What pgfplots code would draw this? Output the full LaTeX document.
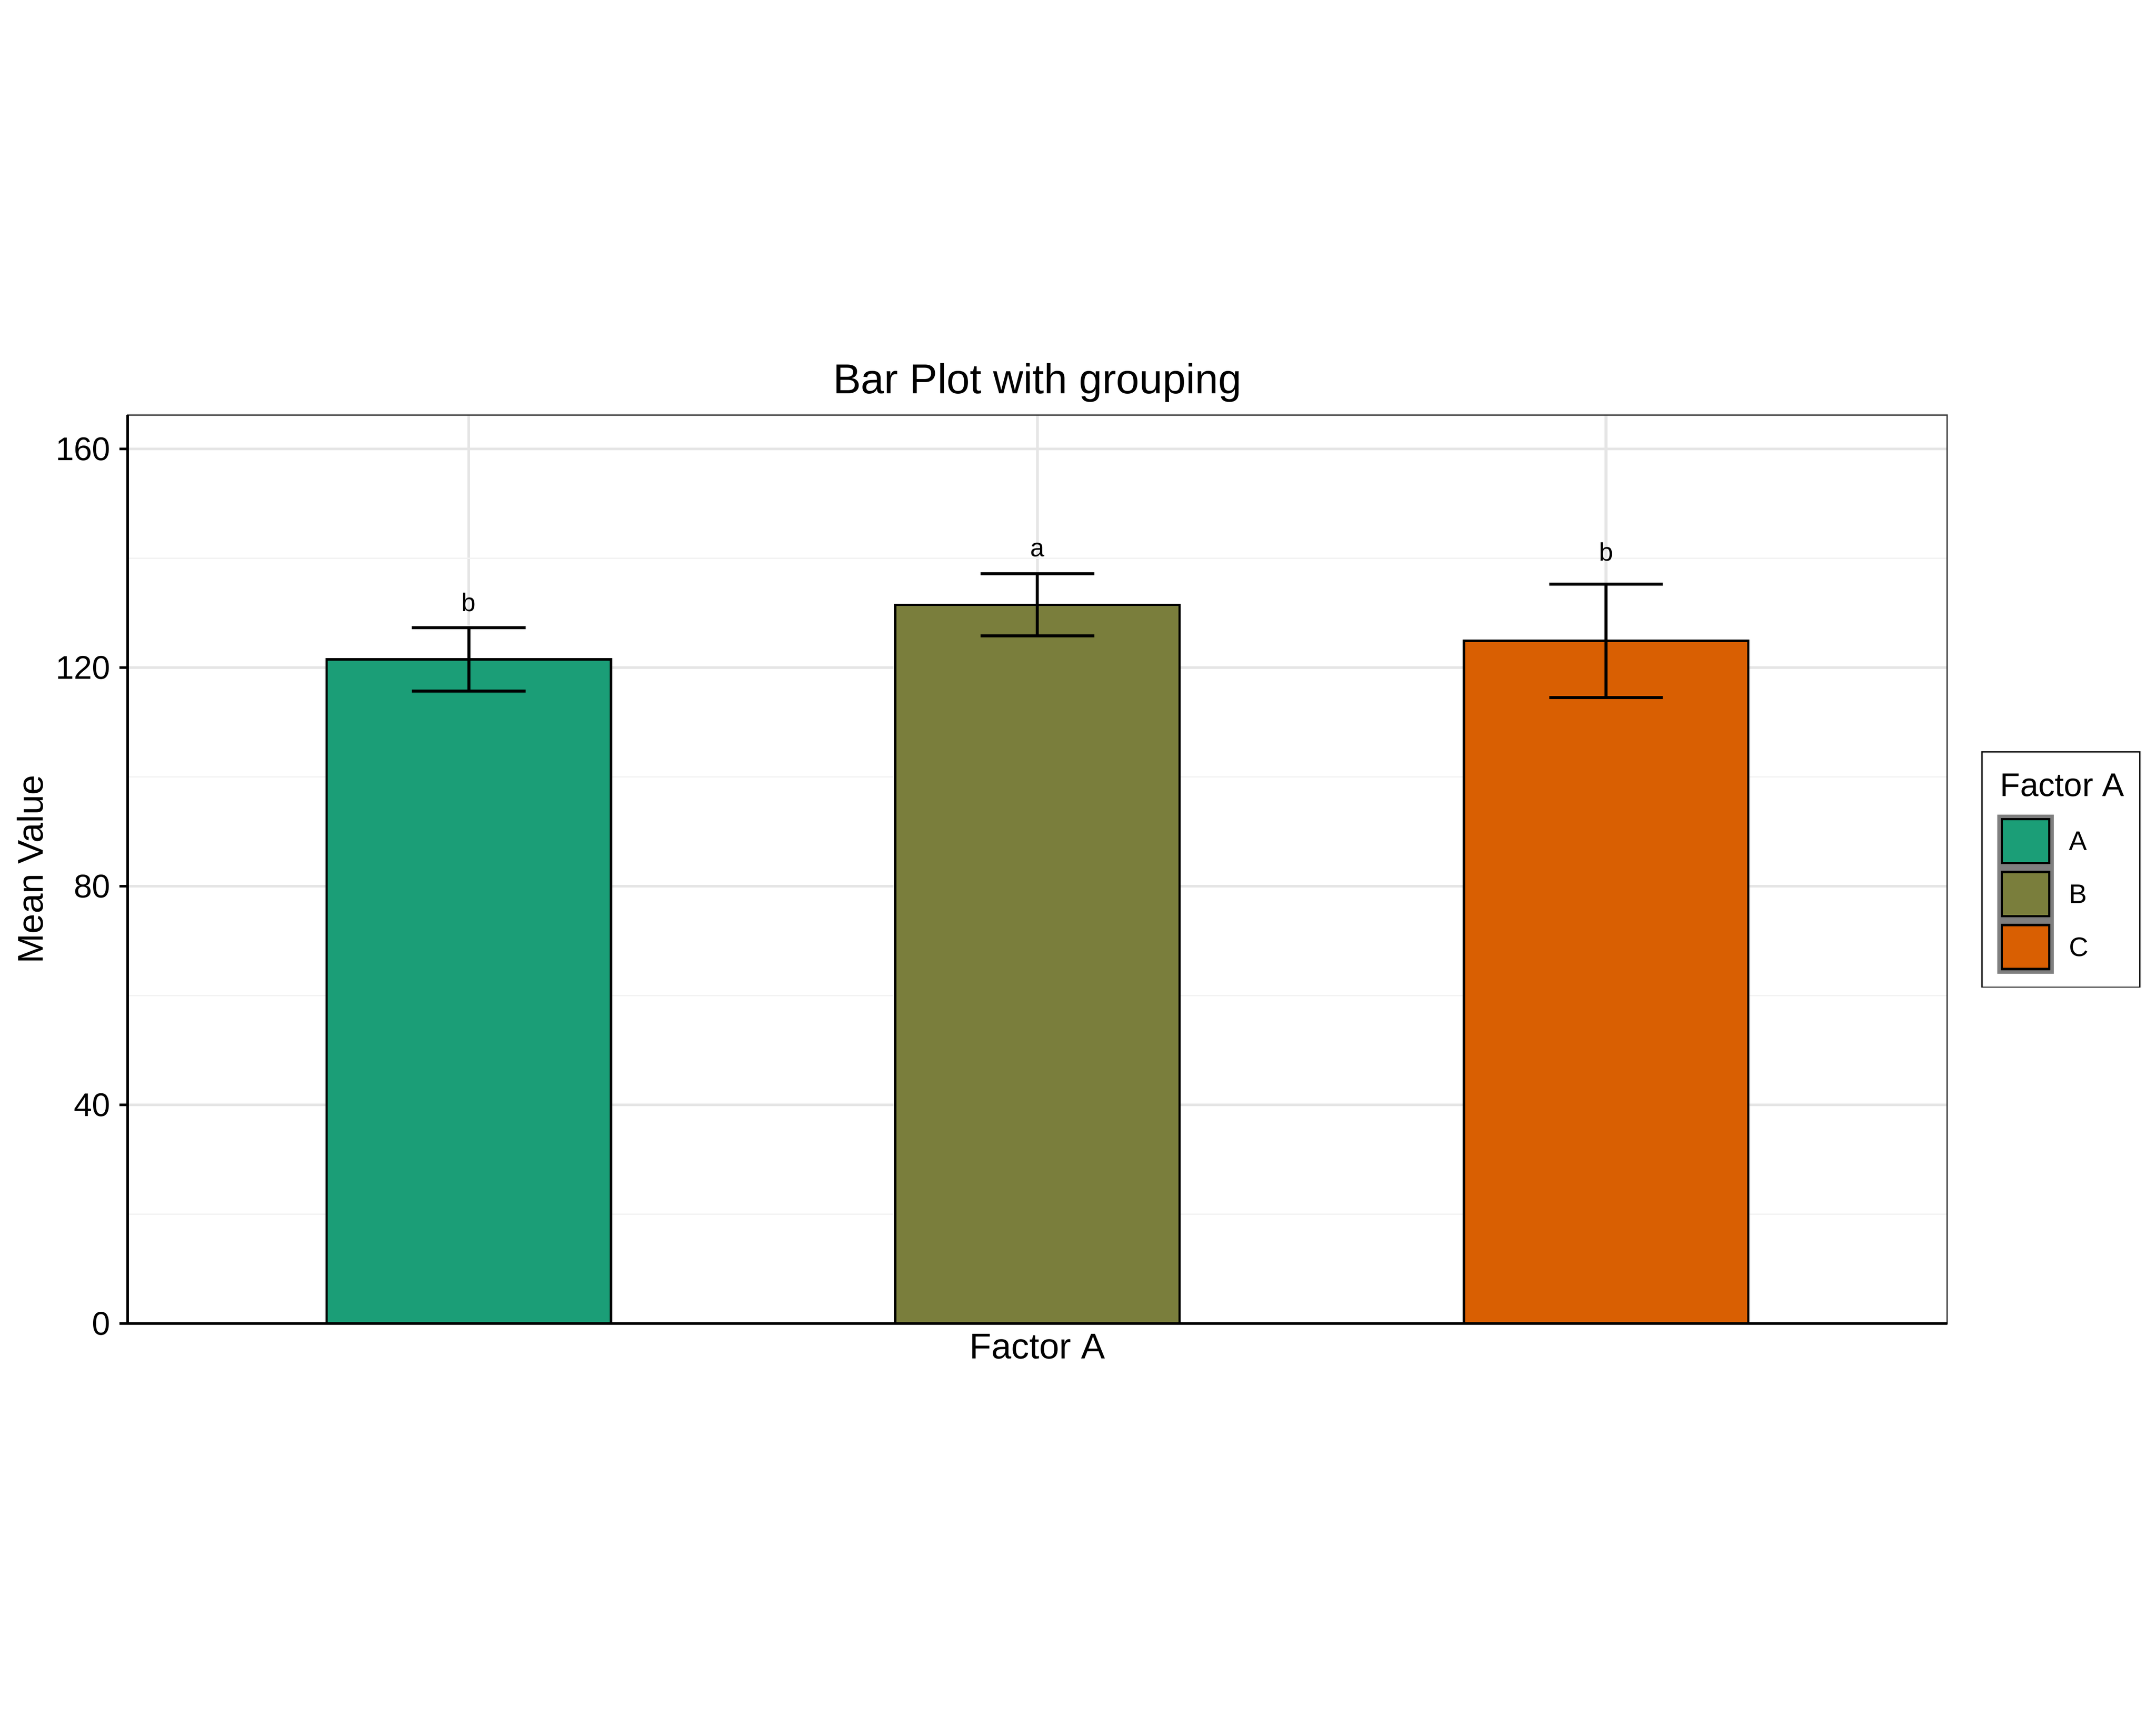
\documentclass[border=0pt]{standalone}
\usepackage{fontspec}
\setmainfont{Liberation Sans}
\usepackage{pgfplots}
\pgfplotsset{compat=1.18}
\definecolor{cA}{HTML}{1B9E77}
\definecolor{cB}{HTML}{7A7E3C}
\definecolor{cC}{HTML}{D95F02}
\definecolor{gridmaj}{HTML}{E5E5E5}
\definecolor{gridmin}{HTML}{F2F2F2}
\definecolor{grey20}{HTML}{333333}
\definecolor{grey50}{HTML}{7F7F7F}
\pgfplotsset{keyimg/.style={legend image code/.code={%
  \fill[grey50] (0bp,-8.45bp) rectangle (18bp,8.45bp);
  \draw[##1,/tikz/.cd,draw=black,line width=0.8bp] (1.1bp,-7.35bp) rectangle (16.9bp,7.35bp);}}}
\begin{document}
\begin{tikzpicture}
\path[use as bounding box, fill=white] (0,0) rectangle (720bp,576bp);
\begin{axis}[
  at={(42.6bp,134.04bp)}, anchor=south west,
  scale only axis, width=607.68bp, height=303.36bp,
  clip=false,
  xmin=0.4, xmax=3.6, ymin=0, ymax=166.2,
  xtick={1,2,3}, xticklabels={},
  ytick={0,40,80,120,160}, minor ytick={20,60,100,140},
  ytick pos=left, xtick pos=bottom,
  tick align=outside, major tick length=2.75bp, minor tick length=0pt,
  tick style={black, line width=0.9bp},
  xtick style={draw=none},
  xmajorgrids, ymajorgrids, yminorgrids,
  major grid style={gridmaj, line width=0.9bp},
  minor grid style={gridmin, line width=0.45bp},
  axis line style={grey20, line width=0.43bp},
  /pgf/number format/assume math mode=true,
  yticklabel style={font=\fontsize{11}{13}\selectfont, inner sep=0pt, xshift=-2.75bp},
  xlabel={Factor A}, ylabel={Mean Value}, title={Bar Plot with grouping},
  every axis x label/.style={at={(axis description cs:0.5,-0.0384)}, anchor=base, font=\fontsize{12}{14}\selectfont},
  every axis y label/.style={at={(axis description cs:-0.04641,0.5)}, rotate=90, anchor=base, font=\fontsize{12}{14}\selectfont},
  every axis title/.style={at={(axis description cs:0.5,1.02373)}, anchor=base, font=\fontsize{14}{16}\selectfont},
  legend style={at={(axis description cs:1.02725,0.5609)}, anchor=north west, draw=none, fill=none,
    inner sep=0pt, row sep=0pt, column sep=5.2bp, nodes={inner sep=0pt, text depth=0pt},
    font=\fontsize{9}{9}\selectfont, cells={anchor=west}},
  legend cell align=left,
]
\addplot[ybar, bar width=0.5, bar shift=0pt, fill=cA, draw=black, line width=0.8bp, keyimg,
  error bars/.cd, y dir=both, y explicit,
  error bar style={line width=1bp, black},
  error mark options={black, line width=1bp, mark size=18.96bp, rotate=90}]
  coordinates {(1,121.5) +- (0,5.8)};
\addlegendentry{A}
\addplot[ybar, bar width=0.5, bar shift=0pt, fill=cB, draw=black, line width=0.8bp, keyimg,
  error bars/.cd, y dir=both, y explicit,
  error bar style={line width=1bp, black},
  error mark options={black, line width=1bp, mark size=18.96bp, rotate=90}]
  coordinates {(2,131.5) +- (0,5.7)};
\addlegendentry{B}
\addplot[ybar, bar width=0.5, bar shift=0pt, fill=cC, draw=black, line width=0.8bp, keyimg,
  error bars/.cd, y dir=both, y explicit,
  error bar style={line width=1bp, black},
  error mark options={black, line width=1bp, mark size=18.96bp, rotate=90}]
  coordinates {(3,124.9) +- (0,10.35)};
\addlegendentry{C}
\node[font=\fontsize{8.5}{10}\selectfont, anchor=base, inner sep=0pt] at (axis cs:1,130.3) {b};
\node[font=\fontsize{8.5}{10}\selectfont, anchor=base, inner sep=0pt] at (axis cs:2,140.3) {a};
\node[font=\fontsize{8.5}{10}\selectfont, anchor=base, inner sep=0pt] at (axis cs:3,139.5) {b};
\draw[black, line width=0.96bp] (rel axis cs:0,1) -- (rel axis cs:0,0) -- (rel axis cs:1,0);
\draw[black, line width=0.35bp] (rel axis cs:1.01911,0.37045) rectangle (rel axis cs:1.10579,0.62935);
\node[anchor=base west, inner sep=0pt, font=\fontsize{11}{13}\selectfont] at (rel axis cs:1.02883,0.58050) {Factor A};
\end{axis}
\end{tikzpicture}
\end{document}
